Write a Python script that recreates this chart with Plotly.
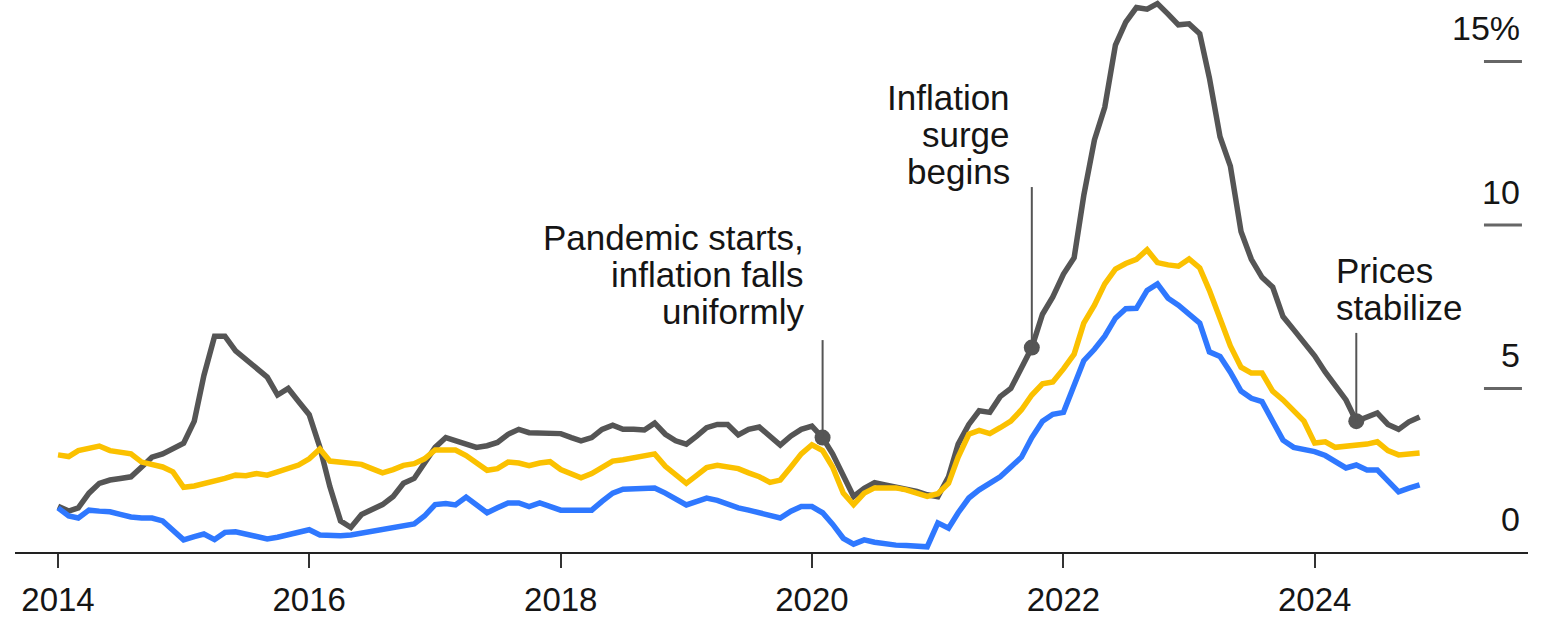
import pandas as pd
import plotly.graph_objects as go

# Monthly readings, Jan 2014 - Nov 2024 (percent, year over year)
months = pd.date_range("2014-01-01", periods=131, freq="MS")

gray_vals = [
    1.40, 1.25, 1.35, 1.80, 2.10, 2.20, 2.25, 2.30, 2.60, 2.90, 3.00, 3.15,
    3.33, 4.00, 5.40, 6.60, 6.60, 6.15, 5.90, 5.65, 5.35, 4.80, 5.00, 4.60,
    4.20, 3.20, 2.00, 0.95, 0.75, 1.15, 1.30, 1.45, 1.70, 2.10, 2.25, 2.70,
    3.20, 3.50, 3.40, 3.30, 3.20, 3.25, 3.35, 3.60, 3.75, 3.65, 3.65, 3.62,
    3.62, 3.50, 3.40, 3.50, 3.75, 3.88, 3.75, 3.75, 3.73, 3.94, 3.60, 3.40,
    3.30, 3.55, 3.80, 3.90, 3.90, 3.58, 3.75, 3.82, 3.55, 3.27, 3.55, 3.75,
    3.85, 3.50, 3.00, 2.30, 1.70, 1.95, 2.12, 2.05, 1.98, 1.95, 1.85, 1.75,
    1.69, 2.30, 3.30, 3.90, 4.32, 4.27, 4.75, 5.00, 5.60, 6.25, 7.27, 7.80,
    8.50, 9.00, 10.90, 12.60, 13.60, 15.50, 16.20, 16.65, 16.60, 16.77, 16.45, 16.12,
    16.15, 15.85, 14.50, 12.70, 11.80, 9.80, 8.95, 8.40, 8.10, 7.20, 6.80, 6.40,
    6.00, 5.50, 5.10, 4.65, 4.00, 4.15, 4.25, 3.90, 3.75, 3.98, 4.13,
]

gold_vals = [
    2.97, 2.92, 3.10, 3.15, 3.24, 3.10, 3.05, 3.00, 2.75, 2.68, 2.60, 2.45,
    1.98, 2.02, 2.08, 2.15, 2.25, 2.35, 2.33, 2.40, 2.35, 2.45, 2.55, 2.66,
    2.85, 3.15, 2.78, 2.75, 2.72, 2.68, 2.55, 2.42, 2.52, 2.65, 2.70, 2.85,
    3.12, 3.12, 3.12, 2.95, 2.75, 2.50, 2.55, 2.75, 2.72, 2.64, 2.72, 2.76,
    2.52, 2.40, 2.27, 2.40, 2.60, 2.78, 2.82, 2.88, 2.95, 3.00, 2.62, 2.35,
    2.10, 2.35, 2.58, 2.65, 2.62, 2.55, 2.42, 2.30, 2.13, 2.20, 2.60, 3.00,
    3.28, 3.10, 2.60, 1.80, 1.45, 1.80, 1.96, 1.96, 1.96, 1.90, 1.80, 1.70,
    1.78, 2.10, 2.90, 3.60, 3.72, 3.62, 3.80, 4.00, 4.35, 4.80, 5.14, 5.20,
    5.60, 6.05, 7.00, 7.55, 8.20, 8.65, 8.82, 8.95, 9.24, 8.85, 8.78, 8.74,
    8.96, 8.69, 8.00, 7.10, 6.30, 5.65, 5.47, 5.47, 4.92, 4.65, 4.30, 4.00,
    3.33, 3.37, 3.20, 3.22, 3.27, 3.30, 3.37, 3.10, 2.97, 3.00, 3.03,
]

blue_vals = [
    1.35, 1.10, 1.04, 1.28, 1.25, 1.23, 1.15, 1.07, 1.04, 1.04, 0.95, 0.65,
    0.37, 0.47, 0.55, 0.38, 0.60, 0.62, 0.55, 0.47, 0.40, 0.45, 0.52, 0.60,
    0.68, 0.52, 0.50, 0.50, 0.52, 0.58, 0.65, 0.72, 0.76, 0.80, 0.86, 1.10,
    1.45, 1.48, 1.44, 1.68, 1.45, 1.20, 1.35, 1.50, 1.50, 1.39, 1.50, 1.40,
    1.28, 1.28, 1.28, 1.28, 1.55, 1.80, 1.92, 1.93, 1.94, 1.96, 1.80, 1.60,
    1.44, 1.55, 1.65, 1.58, 1.45, 1.35, 1.28, 1.20, 1.08, 1.04, 1.25, 1.39,
    1.39, 1.20, 0.85, 0.42, 0.24, 0.37, 0.30, 0.25, 0.21, 0.20, 0.18, 0.16,
    0.89, 0.73, 1.20, 1.65, 1.90, 2.10, 2.30, 2.60, 2.90, 3.50, 4.00, 4.21,
    4.27, 5.10, 5.85, 6.20, 6.60, 7.15, 7.44, 7.45, 8.00, 8.20, 7.76, 7.55,
    7.30, 7.00, 6.12, 5.98, 5.50, 4.92, 4.70, 4.60, 4.00, 3.42, 3.20, 3.15,
    3.07, 2.95, 2.75, 2.57, 2.66, 2.51, 2.51, 2.15, 1.84, 1.95, 2.05,
]

# Right-hand value scale
y_ticks = [0, 5, 10, 15]
y_tick_text = ["0", "5", "10", "15%"]

# Marked events on the dark series
event_dates = ["2020-02-01", "2021-10-01", "2024-05-01"]
event_text = [
    ["Pandemic starts,", "inflation falls", "uniformly"],
    ["Inflation", "surge", "begins"],
    ["Prices", "stabilize"],
]

FONT = "Liberation Sans, Arial, Helvetica, sans-serif"
TEXT_COLOR = "#151515"
DARK = "#555555"
GOLD = "#FBC100"
BLUE = "#2F78FF"

fig = go.Figure()

for vals, color in [(gray_vals, DARK), (blue_vals, BLUE), (gold_vals, GOLD)]:
    fig.add_trace(go.Scatter(
        x=months, y=vals, mode="lines",
        line=dict(color=color, width=5.5, shape="linear"),
        hoverinfo="skip", showlegend=False,
    ))

# Event dots sit on the dark series
month_index = {d.strftime("%Y-%m-%d"): i for i, d in enumerate(months)}
event_y = [gray_vals[month_index[d]] for d in event_dates]

# Leader line tops and text placement (value units / pixel offsets)
leader_top = [6.48, 11.16, 6.70]
text_first_line = [9.63, 13.91, 8.62]
line_step = 37 / 32.7
text_xshift = [-17, -20, -22]
text_anchor = ["right", "right", "left"]

shapes = []
annotations = []
for i, d in enumerate(event_dates):
    shapes.append(dict(
        type="line", xref="x", yref="y", x0=d, x1=d,
        y0=event_y[i], y1=leader_top[i],
        line=dict(color=DARK, width=2), layer="above",
    ))
    for k, txt in enumerate(event_text[i]):
        annotations.append(dict(
            x=d, y=text_first_line[i] - k * line_step, xref="x", yref="y",
            text=txt, showarrow=False, xanchor=text_anchor[i], yanchor="middle",
            xshift=text_xshift[i], align=text_anchor[i],
            font=dict(family=FONT, size=35, color=TEXT_COLOR),
        ))

fig.add_trace(go.Scatter(
    x=event_dates, y=event_y, mode="markers",
    marker=dict(color=DARK, size=16, line=dict(width=0)),
    hoverinfo="skip", showlegend=False,
))

# Right-side scale: short dashes with labels above them
for v, t in zip(y_ticks, y_tick_text):
    if v > 0:
        shapes.append(dict(
            type="line", xref="paper", yref="y", x0=0.9709, x1=0.996, y0=v, y1=v,
            line=dict(color="#666666", width=3),
        ))
    annotations.append(dict(
        x=0.996, y=v, xref="paper", yref="y", text=t, showarrow=False,
        xanchor="right", yanchor="middle", yshift=33,
        font=dict(family=FONT, size=34, color=TEXT_COLOR),
    ))

fig.update_layout(
    width=1557, height=618,
    margin=dict(l=15, r=29, t=0, b=66, autoexpand=False),
    paper_bgcolor="white", plot_bgcolor="white",
    shapes=shapes, annotations=annotations,
    xaxis=dict(
        type="date", range=["2013-08-29", "2025-09-12"],
        tick0="2014-01-01", dtick="M24", tickformat="%Y",
        ticks="outside", ticklen=14, tickwidth=1.5, tickcolor="#333333",
        showline=True, linecolor="#222222", linewidth=2,
        showgrid=False, zeroline=False, automargin=False,
        tickfont=dict(family=FONT, size=33, color=TEXT_COLOR),
        ticklabelstandoff=3,
    ),
    yaxis=dict(
        range=[0, 16.88], visible=False, showgrid=False, zeroline=False,
        automargin=False,
    ),
)

fig.write_html("out.html")
